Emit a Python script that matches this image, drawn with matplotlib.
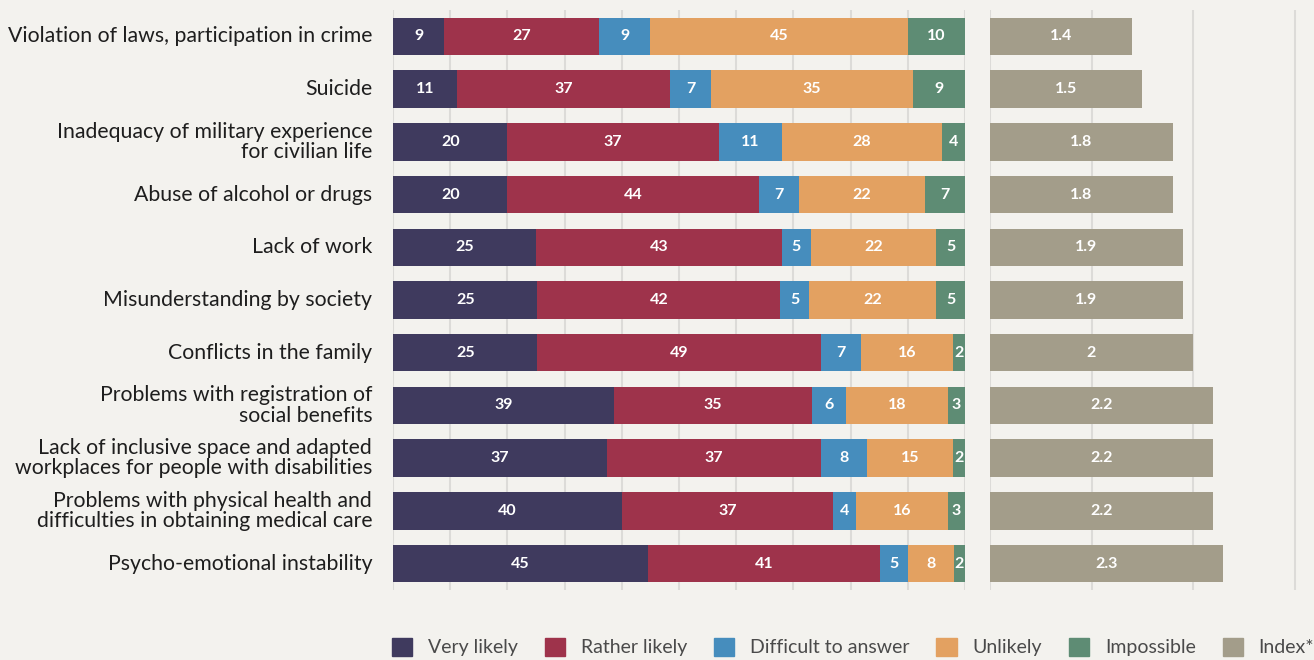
import numpy as np
import matplotlib.pyplot as plt
from matplotlib.patches import Patch

plt.rcParams['font.family'] = ['Lato', 'DejaVu Sans']

categories = [
    "Violation of laws, participation in crime",
    "Suicide",
    "Inadequacy of military experience\nfor civilian life",
    "Abuse of alcohol or drugs",
    "Lack of work",
    "Misunderstanding by society",
    "Conflicts in the family",
    "Problems with registration of\nsocial benefits",
    "Lack of inclusive space and adapted\nworkplaces for people with disabilities",
    "Problems with physical health and\ndifficulties in obtaining medical care",
    "Psycho-emotional instability",
]
very_likely = [9, 11, 20, 20, 25, 25, 25, 39, 37, 40, 45]
rather_likely = [27, 37, 37, 44, 43, 42, 49, 35, 37, 37, 41]
difficult = [9, 7, 11, 7, 5, 5, 7, 6, 8, 4, 5]
unlikely = [45, 35, 28, 22, 22, 22, 16, 18, 15, 16, 8]
impossible = [10, 9, 4, 7, 5, 5, 2, 3, 2, 3, 2]
index_vals = [1.4, 1.5, 1.8, 1.8, 1.9, 1.9, 2.0, 2.2, 2.2, 2.2, 2.3]

series_names = ["Very likely", "Rather likely", "Difficult to answer", "Unlikely", "Impossible"]
colors = ["#3f3a5e", "#9e334b", "#468dbd", "#e3a161", "#5e8c74"]
index_color = "#a39d8a"
bg = "#f3f2ee"
grid_c = "#dcdbd8"

series = np.array([very_likely, rather_likely, difficult, unlikely, impossible], dtype=float)
# bars are drawn to 100% width, labels show the rounded shares
shares = series / series.sum(axis=0) * 100

fig = plt.figure(figsize=(13.14, 6.6), dpi=100, facecolor=bg)
ax = fig.add_axes([393 / 1314, 70 / 660, 572 / 1314, 580 / 660], facecolor=bg)
ax2 = fig.add_axes([990 / 1314, 70 / 660, 324.8 / 1314, 580 / 660], facecolor=bg)

y = np.arange(len(categories))
left = np.zeros(len(categories))
for vals, shown, name, c in zip(shares, series, series_names, colors):
    ax.barh(y, vals, left=left, height=0.71, color=c, zorder=2)
    for yi, l, v, s in zip(y, left, vals, shown):
        ax.text(l + v / 2, yi, f"{s:g}", ha='center', va='center', color='white',
                fontsize=11.5, fontweight='bold', zorder=3)
    left += vals

ax.set_xlim(0, 100)
ax.set_ylim(10.5, -0.5)
ax.set_xticks(np.arange(0, 101, 10))
ax.xaxis.grid(True, color=grid_c, linewidth=1.5, zorder=0)
ax.tick_params(axis='x', length=0, labelbottom=False)
ax.tick_params(axis='y', length=0, pad=15)
ax.set_yticks(y)
ax.set_yticklabels(categories, fontsize=15.3, color='#1e1e1e', linespacing=1.02,
                   va='center')
for s in ax.spines.values():
    s.set_visible(False)

ax2.barh(y, index_vals, height=0.71, color=index_color, zorder=2)
for yi, v in zip(y, index_vals):
    ax2.text(v / 2, yi, f"{v:g}", ha='center', va='center', color='white',
             fontsize=11.5, fontweight='bold', zorder=3)
ax2.set_xlim(0, 3.2)
ax2.set_ylim(10.5, -0.5)
ax2.set_xticks([0, 1, 2, 3])
ax2.set_yticks([])
ax2.xaxis.grid(True, color=grid_c, linewidth=1.5, zorder=0)
ax2.tick_params(axis='x', length=0, labelbottom=False)
for s in ax2.spines.values():
    s.set_visible(False)

handles = [Patch(color=c, label=n) for c, n in zip(colors, series_names)]
handles.append(Patch(color=index_color, label="Index*"))
fig.legend(handles=handles, loc='center left', bbox_to_anchor=(382 / 1314, 13 / 660),
           ncol=6, frameon=False, fontsize=14, labelcolor='#4a4a4a',
           handlelength=1.05, handleheight=1.05, handletextpad=0.8, columnspacing=1.39,
           borderpad=0)

fig.savefig("out.png", dpi=100, facecolor=bg)
